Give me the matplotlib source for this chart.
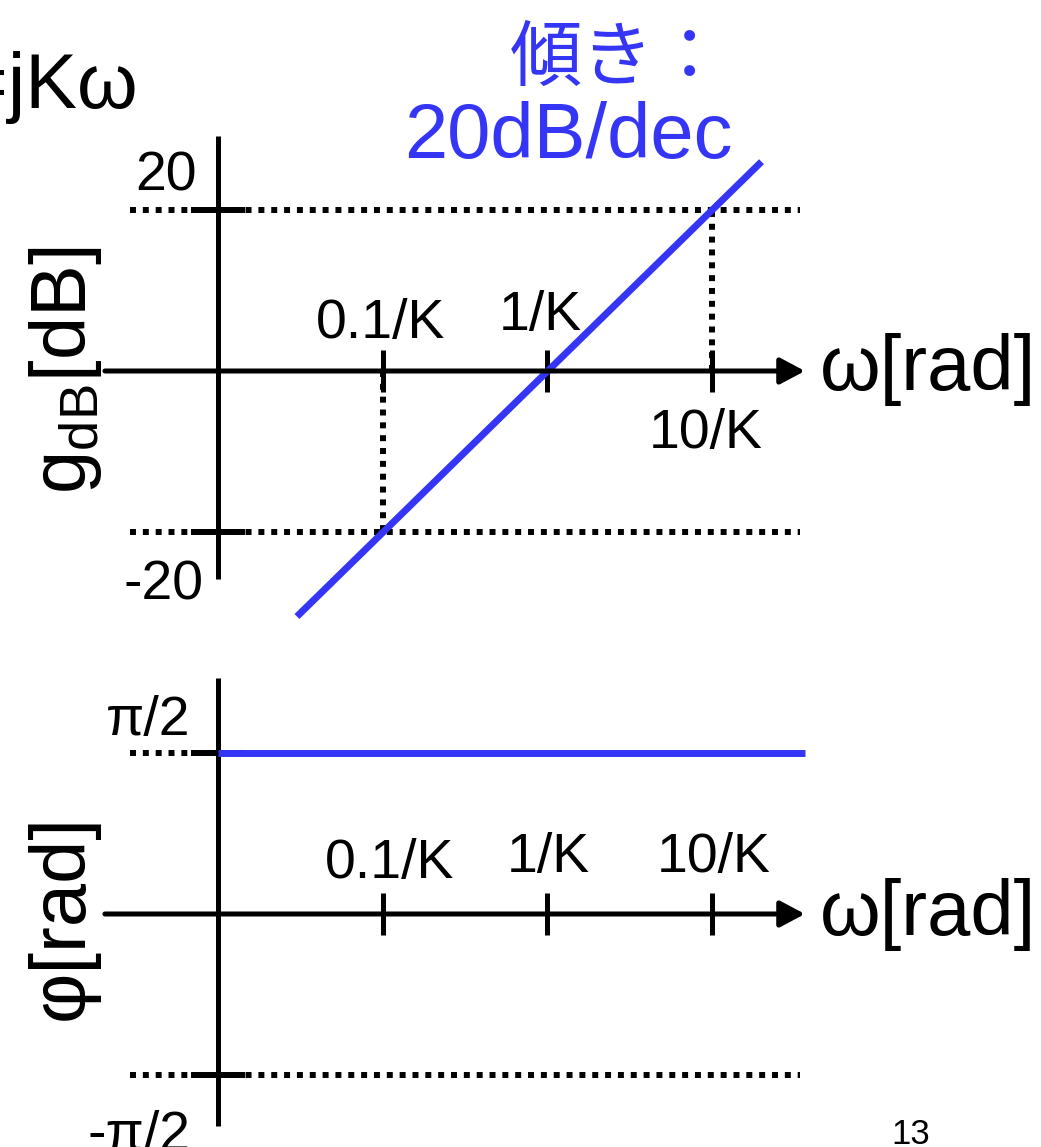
import numpy as np
import matplotlib
matplotlib.use('Agg')
import matplotlib.pyplot as plt

plt.rcParams['font.family'] = ['Liberation Sans', 'Noto Sans CJK JP', 'DejaVu Sans']
plt.rcParams['mathtext.fontset'] = 'custom'
plt.rcParams['mathtext.rm'] = 'Liberation Sans'
plt.rcParams['mathtext.it'] = 'Liberation Sans'

BLUE = '#3535f5'

# frequencies are in units of 1/K
w_ticks = [0.1, 1, 10]
w_tick_labels = ['0.1/K', '1/K', '10/K']
w_yaxis = 0.01          # where the vertical axis is drawn
w_left, w_right = 0.00204, 36.7
w_dot_left, w_dot_right = 0.0029, 34.3

# gain: 20dB/dec asymptote
gain_w = [0.0300, 20.0]
gain_db = [-30.5, 26.0]
gain_levels = [20, -20]

# phase: constant +pi/2
phase_w = [w_yaxis, w_right]
phase_rad = [np.pi / 2, np.pi / 2]
phase_levels = [np.pi / 2, -np.pi / 2]

W, H = 1041, 1147
split = 645

fig = plt.figure(figsize=(W / 100, H / 100), dpi=100)
top = fig.add_axes([0, 1 - split / H, 1, split / H])
bot = fig.add_axes([0, 0, 1, 1 - split / H])

for ax in (top, bot):
    ax.set_xscale('log')
    ax.set_xlim(10 ** -3.328, 10 ** 3.0)
    ax.axis('off')
top.set_ylim(-34.04, 46.09)
bot.set_ylim(-2.267, 2.617)

LW = 3.6
DOT = dict(color='k', lw=4.3, linestyle=(0, (1.0, 1.15)), dash_capstyle='butt')
dec = 27 / 164.5   # half length of the small ticks on the vertical axis, in decades


def draw_axes(ax, y_top, y_bot, tick_half):
    ax.plot([w_yaxis, w_yaxis], [y_bot, y_top], color='k', lw=LW, solid_capstyle='butt')
    ax.annotate('', xy=(w_right, 0), xytext=(w_left, 0),
                arrowprops=dict(arrowstyle='-|>,head_length=0.75,head_width=0.4',
                                lw=LW, color='k', mutation_scale=20,
                                shrinkA=0, shrinkB=0))
    for w in w_ticks:
        ax.plot([w, w], [-tick_half, tick_half], color='k', lw=LW, solid_capstyle='butt')


def level_tick(ax, y):
    ax.plot([w_yaxis * 10 ** -dec, w_yaxis * 10 ** dec], [y, y], color='k', lw=4.3,
            solid_capstyle='butt')


# magnitude plot
draw_axes(top, 29.2, -25.8, 2.6)
for g in gain_levels:
    top.plot([w_dot_left, w_dot_right], [g, g], **DOT)
    level_tick(top, g)
top.plot([10, 10], [0, 20], **DOT)
top.plot([0.1, 0.1], [0, -20], **DOT)
top.plot(gain_w, gain_db, color=BLUE, lw=5, solid_capstyle='butt')

# phase plot
draw_axes(bot, 2.30, -2.06, 0.205)
bot.plot([w_dot_left, w_yaxis], [phase_levels[0]] * 2, **DOT)
bot.plot([w_dot_left, w_dot_right], [phase_levels[1]] * 2, **DOT)
for p in phase_levels:
    level_tick(bot, p)
bot.plot(phase_w, phase_rad, color=BLUE, lw=5, solid_capstyle='butt')


def label(x, y, s, size, **kw):
    fig.text(x / W, 1 - y / H, s, fontsize=size, **kw)


BIG = 56
MID = 40
label(138, 108, 'G(jω)=jKω', BIG, ha='right', va='baseline')
label(510, 80, '傾き：', 52, ha='left', va='baseline', color=BLUE,
      family=['Noto Sans CJK JP', 'DejaVu Sans'])
label(568, 158, '20dB/dec', BIG, ha='center', va='baseline', color=BLUE)

label(197, 190, '20', MID, ha='right', va='baseline')
label(203, 600, '-20', MID, ha='right', va='baseline')
label(381, 338, w_tick_labels[0], MID, ha='center', va='baseline')
label(540, 330, w_tick_labels[1], MID, ha='center', va='baseline')
label(706, 448, w_tick_labels[2], MID, ha='center', va='baseline')
label(820, 390, 'ω[rad]', BIG, ha='left', va='baseline')
label(65, 370, 'g$_{\\mathrm{dB}}$[dB]', BIG, ha='center', va='center', rotation=90)

label(190, 735, 'π/2', MID, ha='right', va='baseline')
label(190, 1150, '-π/2', MID, ha='right', va='baseline')
label(390, 878, w_tick_labels[0], MID, ha='center', va='baseline')
label(548, 872, w_tick_labels[1], MID, ha='center', va='baseline')
label(714, 872, w_tick_labels[2], MID, ha='center', va='baseline')
label(820, 935, 'ω[rad]', BIG, ha='left', va='baseline')
label(62, 917, 'φ[rad]', BIG, ha='center', va='center', rotation=90)
label(911, 1144, '13', 25, ha='center', va='baseline')

fig.savefig('out.png', dpi=100, facecolor='white')
